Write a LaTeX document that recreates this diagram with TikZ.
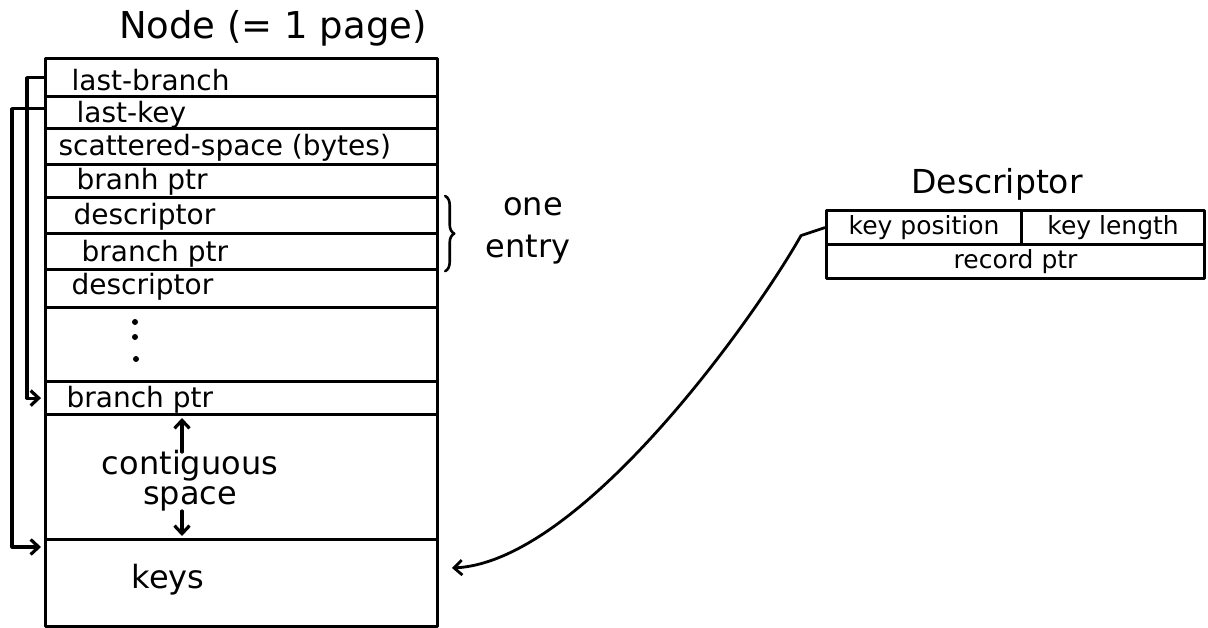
\documentclass[tikz,border=0pt]{standalone}
\usepackage{fontspec}
\setmainfont{DejaVu Sans}
\usetikzlibrary{arrows.meta,decorations.pathreplacing,calc}
\begin{document}
\begin{tikzpicture}[x=1pt,y=-1pt,
  line width=3.2pt, line join=round, line cap=round,
  cell/.style={draw, rectangle, inner sep=0pt, anchor=north west},
  rowtext/.style={anchor=west, inner sep=0pt, font=\fontsize{28}{32}\selectfont},
  bigtext/.style={inner sep=0pt, font=\fontsize{32}{36}\selectfont},
  desctext/.style={font=\fontsize{25}{29}\selectfont},
  tip/.style={-{Straight Barb[length=8pt,width=15pt]}}]
\useasboundingbox (0,0) rectangle (1208,628);

% page title
\node[inner sep=0pt, font=\fontsize{37}{41}\selectfont] (title) at (273,28) {Node (= 1 page)};

% the page, one slot per row
\node[cell, minimum width=392pt, minimum height=38pt]  (r1)  at (44,57)  {};
\node[cell, minimum width=392pt, minimum height=32pt]  (r2)  at (44,95)  {};
\node[cell, minimum width=392pt, minimum height=36pt]  (r3)  at (44,127) {};
\node[cell, minimum width=392pt, minimum height=33pt]  (r4)  at (44,163) {};
\node[cell, minimum width=392pt, minimum height=36pt]  (r5)  at (44,196) {};
\node[cell, minimum width=392pt, minimum height=36pt]  (r6)  at (44,232) {};
\node[cell, minimum width=392pt, minimum height=38pt]  (r7)  at (44,268) {};
\node[cell, minimum width=392pt, minimum height=74pt]  (r8)  at (44,306) {};
\node[cell, minimum width=392pt, minimum height=33pt]  (r9)  at (44,380) {};
\node[cell, minimum width=392pt, minimum height=125pt] (r10) at (44,413) {};
\node[cell, minimum width=392pt, minimum height=87pt]  (r11) at (44,538) {};

\node[rowtext] (t1) at ([xshift=26pt,yshift=-2pt]r1.west) {last-branch};
\node[rowtext] (t2) at ([xshift=31pt,yshift=-2pt]r2.west) {last-key};
\node[rowtext] (t3) at ([xshift=13pt,yshift=-1pt]r3.west) {scattered-space (bytes)};
\node[rowtext] (t4) at ([xshift=31pt,yshift=-1pt]r4.west) {branh ptr};
\node[rowtext] (t5) at ([xshift=28pt,yshift=-1pt]r5.west) {descriptor};
\node[rowtext] (t6) at ([xshift=36pt,yshift=-2pt]r6.west) {branch ptr};
\node[rowtext] (t7) at ([xshift=26pt,yshift=2pt]r7.west) {descriptor};
\node[rowtext] (t9) at ([xshift=21pt,yshift=-2pt]r9.west) {branch ptr};

% vertical ellipsis
\fill (135,322) circle (3pt) (135,337) circle (3pt) (136,359) circle (3pt);

% free space between the entries and the keys
\node[bigtext, align=center, font=\fontsize{32}{30}\selectfont] (cs) at (190,481) {contiguous\\space};
\coordinate (upA) at (182,452);
\coordinate (upB) at (182,418);
\coordinate (dnA) at (182,511);
\coordinate (dnB) at (182,536);
\draw[tip] (upA) -- (upB);
\draw[tip] (dnA) -- (dnB);

\node[bigtext] (keys) at (168,580) {keys};

% header pointers
\draw[tip, shorten >=3pt] (r1.west) -- ++(-17,0) |- (r9.west);
\draw[tip, shorten >=3pt] ([yshift=4pt]r2.west) -- ++(-32,0) |- ([yshift=-9pt]r11.north west);

% one entry = descriptor + branch ptr
\draw[decorate, decoration={brace, amplitude=9pt}, line width=2.6pt]
  ([xshift=6pt]r5.north east) -- ([xshift=6pt]r6.south east);
\node[bigtext] (one) at (533,207) {one};
\node[bigtext] (entry) at (528,250) {entry};

% descriptor layout
\node[inner sep=0pt, font=\fontsize{33}{37}\selectfont] (dtitle) at (997,184) {Descriptor};
\node[cell, desctext, minimum width=195pt, minimum height=34pt] (d1) at (825,209) {key position};
\node[cell, desctext, minimum width=183pt, minimum height=34pt] (d2) at (1020,209) {key length};
\node[cell, desctext, minimum width=378pt, minimum height=34pt] (d3) at (825,243) {record ptr};

% key position points into the key area
\coordinate (keysin) at (452,568);
\draw[tip, line width=2.8pt] (d1.west) -- ++(-24,8)
  .. controls (752,322) and (580,562) .. (keysin);
\end{tikzpicture}
\end{document}
